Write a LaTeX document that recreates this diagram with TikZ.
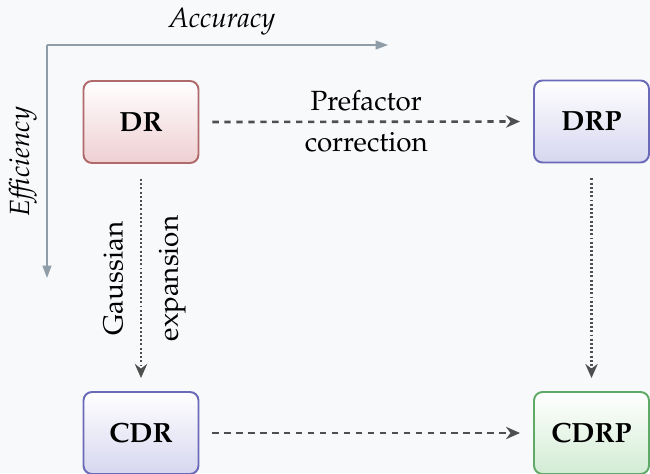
\documentclass[tikz,border=0pt]{standalone}
\usepackage[T1]{fontenc}
\usepackage{mathpazo}
\usepackage{xcolor}
\usepackage{tikz}
\usetikzlibrary{arrows.meta,positioning,calc}
\definecolor{paper}{HTML}{F8F9FB}
\definecolor{axisgray}{HTML}{8E9DA8}
\definecolor{linkgray}{HTML}{4F4F4F}
\definecolor{drred}{HTML}{B06A6C}
\definecolor{drfill}{HTML}{EFCFD2}
\definecolor{rpblue}{HTML}{6A6AB8}
\definecolor{rpfill}{HTML}{D6D6F0}
\definecolor{cgreen}{HTML}{5EAA66}
\definecolor{cfill}{HTML}{D2ECD3}
\newcommand{\labelsize}{\fontsize{15.8}{19}\selectfont}

\tikzset{
  method/.style={draw=#1, line width=1.1pt, rounded corners=0.17cm, text=black,
    minimum width=2.3cm, minimum height=1.64cm, font=\labelsize\bfseries},
  refine/.style={linkgray, line width=1.5pt, dash pattern=on 3.6pt off 3.2pt,
    -{Stealth[length=8pt,width=7pt]}},
  expand/.style={linkgray, line width=1.5pt, dash pattern=on 1.1pt off 1.3pt,
    -{Stealth[length=8pt,width=7pt]}},
  axisline/.style={axisgray, line width=0.9pt, -{Triangle[length=7pt,width=5pt]}},
  tag/.style={text=black, font=\labelsize},
}

\begin{document}
\begin{tikzpicture}
\fill[paper] (0,0) rectangle (13,-9.46);
\useasboundingbox (0,0) rectangle (13,-9.46);

% axes
\coordinate (origin) at (0.94,-0.9);
\coordinate (acc) at (7.76,-0.9);
\coordinate (eff) at (0.94,-5.56);
\draw[axisline] (origin) -- (acc);
\draw[axisline] (origin) -- (eff);
\node[tag, font=\labelsize\itshape] (acclabel) at (4.44,-0.44) {Accuracy};
\node[tag, font=\labelsize\itshape, rotate=90] (efflabel) at (0.46,-3.24) {Efficiency};

% methods
\node[method=drred, top color=white, bottom color=drfill] (dr) at (2.82,-2.44) {DR};
\node[method=rpblue, top color=white, bottom color=rpfill] (drp) at (11.83,-2.43) {DRP};
\node[method=rpblue, top color=white, bottom color=rpfill] (cdr) at (2.82,-8.66) {CDR};
\node[method=cgreen, top color=white, bottom color=cfill] (cdrp) at (11.83,-8.66) {CDRP};

\draw[refine] ([xshift=0.26cm]dr.east) -- ([xshift=-0.26cm]drp.west)
  node[tag, midway, above=2pt] {Prefactor}
  node[tag, midway, below=2pt] {correction};
\draw[refine] ([xshift=0.26cm]cdr.east) -- ([xshift=-0.26cm]cdrp.west);
\draw[expand] ([yshift=-0.3cm]dr.south) -- ([yshift=0.26cm]cdr.north)
  node[tag, midway, anchor=south, rotate=90, yshift=6pt] {Gaussian}
  node[tag, midway, anchor=north, rotate=90, yshift=-6pt] {expansion};
\draw[expand] ([yshift=-0.3cm]drp.south) -- ([yshift=0.26cm]cdrp.north);
\end{tikzpicture}
\end{document}
